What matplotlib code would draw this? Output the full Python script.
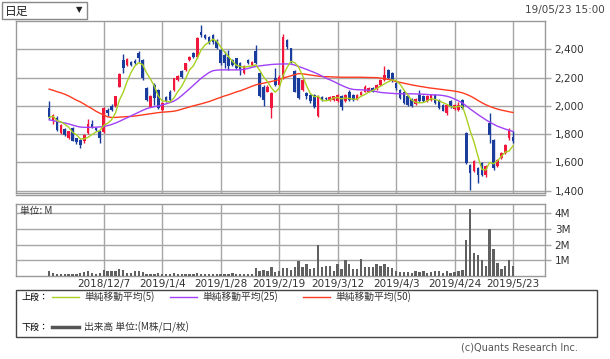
import numpy as np
import pandas as pd
import matplotlib
matplotlib.use("Agg")
import matplotlib.pyplot as plt
from matplotlib.patches import Rectangle
from matplotlib.lines import Line2D

# daily candles, 2018/11/16 .. 2019/5/23 (index 0..119)
opens = [1983, 1901, 1915, 1807, 1836, 1772, 1842, 1772, 1760, 1748,
         1808, 1873, 1845, 1820, 1812, 1972, 2000, 2000, 2136, 2325,
         2290, 2313, 2318, 2372, 2325, 2125, 1995, 2148, 2113, 1972,
         2061, 2101, 2113, 2184, 2243, 2254, 2325, 2372, 2348, 2525,
         2501, 2489, 2501, 2461, 2395, 2360, 2348, 2325, 2336, 2301,
         2231, 2325, 2290, 2384, 2231, 2136, 2101, 1984, 2195, 2148,
         2195, 2466, 2407, 2243, 2195, 2113, 2089, 2078, 2078, 1925,
         2061, 2056, 2042, 2042, 2031, 2071, 2031, 2101, 2078, 2047,
         2078, 2101, 2101, 2125, 2118, 2148, 2184, 2254, 2231, 2160,
         2113, 2101, 2066, 2047, 2014, 2078, 2066, 2031, 2042, 2078,
         2042, 2007, 1948, 2031, 1976, 1972, 2042, 1807, 1584, 1537,
         1560, 1595, 1513, 1878, 1760, 1572, 1630, 1666, 1772, 1779]
highs = [2035, 1940, 1925, 1870, 1845, 1825, 1850, 1775, 1765, 1800,
         1908, 1900, 1850, 1825, 1990, 1984, 2010, 2070, 2230, 2365,
         2340, 2320, 2330, 2384, 2330, 2130, 2075, 2160, 2120, 2030,
         2070, 2110, 2200, 2220, 2250, 2305, 2355, 2380, 2485, 2572,
         2510, 2495, 2510, 2470, 2400, 2384, 2395, 2330, 2340, 2310,
         2290, 2330, 2320, 2430, 2240, 2145, 2145, 2095, 2266, 2215,
         2508, 2475, 2410, 2250, 2200, 2195, 2095, 2085, 2085, 2075,
         2068, 2065, 2068, 2072, 2085, 2080, 2085, 2110, 2085, 2085,
         2108, 2148, 2130, 2130, 2155, 2190, 2278, 2260, 2240, 2170,
         2120, 2108, 2075, 2055, 2055, 2113, 2075, 2075, 2085, 2085,
         2050, 2015, 2015, 2042, 2015, 2030, 2050, 1815, 1590, 1615,
         1570, 1600, 1580, 1948, 1765, 1625, 1675, 1730, 1843, 1819]
lows = [1906, 1870, 1825, 1800, 1790, 1765, 1750, 1732, 1705, 1740,
        1800, 1842, 1825, 1740, 1805, 1925, 1965, 1995, 2130, 2230,
        2280, 2285, 2295, 2313, 2180, 2035, 1990, 2007, 1975, 1960,
        2025, 2035, 2105, 2175, 2200, 2245, 2320, 2340, 2340, 2489,
        2470, 2435, 2440, 2400, 2290, 2266, 2254, 2280, 2260, 2219,
        2225, 2295, 2285, 2295, 2060, 2000, 2095, 1913, 2140, 2140,
        2190, 2405, 2305, 2095, 2045, 2105, 2050, 2020, 1985, 1920,
        2035, 2040, 2035, 2035, 2025, 1972, 2025, 2035, 2035, 2040,
        2070, 2095, 2095, 2095, 2110, 2140, 2178, 2190, 2165, 2115,
        2045, 2010, 2000, 1990, 2005, 2025, 2025, 2025, 2035, 2010,
        1975, 1960, 1936, 1985, 1970, 1965, 1975, 1590, 1407, 1530,
        1454, 1505, 1500, 1736, 1550, 1565, 1622, 1660, 1760, 1736]
closes = [1918, 1936, 1831, 1866, 1795, 1819, 1755, 1741, 1725, 1795,
          1873, 1850, 1830, 1772, 1984, 1948, 1972, 2066, 2224, 2266,
          2330, 2290, 2301, 2336, 2195, 2042, 2070, 2054, 1984, 2023,
          2031, 2042, 2195, 2212, 2207, 2301, 2348, 2348, 2478, 2501,
          2478, 2442, 2454, 2407, 2301, 2301, 2278, 2290, 2266, 2254,
          2278, 2301, 2313, 2301, 2066, 2042, 2136, 2089, 2148, 2207,
          2489, 2414, 2313, 2101, 2054, 2184, 2066, 2031, 1990, 2066,
          2042, 2047, 2061, 2066, 2078, 1995, 2078, 2042, 2042, 2078,
          2101, 2136, 2125, 2101, 2148, 2184, 2219, 2195, 2172, 2125,
          2054, 2019, 2007, 2000, 2047, 2031, 2031, 2066, 2078, 2019,
          1984, 1967, 2007, 1991, 2007, 2007, 1984, 1595, 1525, 1607,
          1513, 1513, 1572, 1795, 1560, 1619, 1666, 1725, 1831, 1748]
# volume in millions of shares
volumes = [0.3, 0.2, 0.15, 0.1, 0.15, 0.12, 0.12, 0.15, 0.2, 0.25,
           0.3, 0.2, 0.12, 0.2, 0.4, 0.3, 0.35, 0.35, 0.45, 0.4,
           0.2, 0.2, 0.3, 0.3, 0.25, 0.15, 0.12, 0.1, 0.2, 0.1,
           0.15, 0.1, 0.2, 0.15, 0.15, 0.15, 0.12, 0.15, 0.2, 0.12,
           0.15, 0.1, 0.12, 0.1, 0.15, 0.15, 0.12, 0.2, 0.15, 0.1,
           0.1, 0.12, 0.1, 0.5, 0.35, 0.4, 0.35, 0.55, 0.25, 0.3,
           0.5, 0.5, 0.4, 0.6, 0.95, 0.6, 0.75, 0.45, 0.5, 2.0,
           0.55, 0.65, 0.65, 0.3, 0.75, 0.45, 1.0, 0.75, 0.45, 0.45,
           1.1, 0.6, 0.6, 0.55, 0.75, 0.65, 0.75, 0.6, 0.5, 0.3,
           0.25, 0.25, 0.25, 0.2, 0.35, 0.25, 0.35, 0.2, 0.25, 0.3,
           0.3, 0.2, 0.3, 0.2, 0.25, 0.3, 0.4, 2.3, 4.3, 1.5,
           1.35, 1.0, 0.65, 3.0, 1.7, 0.8, 0.45, 0.65, 1.0, 0.65]
ma25 = [1901, 1896, 1890, 1884, 1879, 1872, 1864, 1856, 1850, 1848,
        1848, 1848, 1849, 1851, 1854, 1860, 1868, 1878, 1890, 1903,
        1916, 1929, 1942, 1955, 1968, 1980, 1988, 1994, 1999, 2006,
        2014, 2023, 2033, 2050, 2072, 2096, 2120, 2145, 2170, 2195,
        2215, 2235, 2248, 2252, 2254, 2254, 2254, 2254, 2254, 2254,
        2258, 2264, 2272, 2278, 2282, 2286, 2289, 2292, 2294, 2295,
        2296, 2296, 2295, 2288, 2278, 2268, 2258, 2247, 2236, 2224,
        2210, 2196, 2184, 2172, 2158, 2145, 2133, 2122, 2116, 2114,
        2113, 2112, 2110, 2106, 2100, 2095, 2092, 2090, 2088, 2086,
        2085, 2085, 2085, 2085, 2084, 2083, 2082, 2080, 2078, 2077,
        2076, 2073, 2068, 2060, 2048, 2035, 2020, 2000, 1978, 1958,
        1938, 1920, 1902, 1885, 1870, 1856, 1846, 1836, 1827, 1819]
ma50 = [2118, 2110, 2100, 2092, 2082, 2070, 2055, 2040, 2028, 2012,
        1995, 1980, 1962, 1948, 1935, 1922, 1918, 1918, 1920, 1922,
        1924, 1925, 1928, 1932, 1936, 1940, 1944, 1948, 1952, 1955,
        1957, 1959, 1962, 1968, 1976, 1984, 1992, 2000, 2007, 2014,
        2022, 2030, 2040, 2050, 2060, 2070, 2078, 2088, 2098, 2106,
        2116, 2127, 2138, 2148, 2155, 2160, 2166, 2172, 2178, 2186,
        2196, 2204, 2212, 2220, 2228, 2226, 2222, 2218, 2214, 2210,
        2207, 2206, 2205, 2204, 2203, 2202, 2202, 2202, 2202, 2202,
        2202, 2201, 2200, 2200, 2199, 2196, 2192, 2187, 2180, 2172,
        2166, 2160, 2154, 2148, 2143, 2138, 2134, 2129, 2125, 2122,
        2118, 2115, 2111, 2108, 2104, 2099, 2092, 2082, 2070, 2055,
        2038, 2022, 2008, 1996, 1986, 1977, 1970, 1964, 1958, 1953]

date_pos = [14, 29, 44, 59, 74, 89, 104, 119]
date_labels = ["2018/12/7", "2019/1/4", "2019/1/28", "2019/2/19",
               "2019/3/12", "2019/4/3", "2019/4/24", "2019/5/23"]
price_ticks = [1400, 1600, 1800, 2000, 2200, 2400]
vol_ticks = [1, 2, 3, 4]

UP = "#f0163c"
DOWN = "#1a3c9c"
GRID = "#a6a6a6"
JP = ["Noto Sans CJK JP", "DejaVu Sans"]
plt.rcParams["font.family"] = ["DejaVu Sans", "Noto Sans CJK JP"]

W, H = 610, 359
fig = plt.figure(figsize=(W / 100, H / 100), dpi=100)


def box(l, t, r, b):
    return [l / W, 1 - b / H, (r - l) / W, (b - t) / H]


def fx(x):
    return x / W


def fy(y):
    return 1 - y / H


ax = fig.add_axes(box(16, 20.5, 545, 193))
av = fig.add_axes(box(16, 204, 545, 276))

x = np.arange(len(closes))
o = np.array(opens)
c = np.array(closes)
up = c >= o
colors = np.where(up, UP, DOWN)

# candles
ax.vlines(x, lows, highs, colors=colors, lw=1.0, zorder=3)
bottom = np.minimum(o, c)
height = np.maximum(np.abs(c - o), 6)
ax.bar(x, height, bottom=bottom, width=0.68, color=colors, lw=0, zorder=4)

ma5 = pd.Series(closes).rolling(5, min_periods=1).mean()
ax.plot(x, ma50, color="#ff3b1f", lw=1.0, zorder=5)
ax.plot(x, ma25, color="#a040f8", lw=1.0, zorder=5)
ax.plot(x, ma5, color="#a8d020", lw=1.0, zorder=6)

xlim = (-8.5, 127.2)
for a in (ax, av):
    a.set_xlim(*xlim)
    a.set_xticks(date_pos)
    a.grid(True, color=GRID, lw=1.0)
    a.set_axisbelow(True)
    a.yaxis.tick_right()
    a.tick_params(axis="y", direction="out", length=4, width=1, color=GRID,
                  labelsize=7.5, pad=3, labelcolor="#333333")
    a.tick_params(axis="x", length=0)
    for s in a.spines.values():
        s.set_color("#999999")
        s.set_linewidth(1.0)

ax.set_ylim(1384, 2603)
ax.set_yticks(price_ticks)
ax.set_yticklabels([f"{v:,}" for v in price_ticks])
ax.set_xticklabels([])

av.bar(x, volumes, width=0.6, color="#606060", lw=0, zorder=3)
av.set_ylim(0, 4.6)
av.set_yticks(vol_ticks)
av.set_yticklabels([f"{v}M" for v in vol_ticks])
av.set_xticklabels(date_labels, fontsize=7.5, color="#333333")
av.tick_params(axis="x", pad=2)
av.text(0.008, 0.97, "単位: M", transform=av.transAxes, ha="left", va="top",
        fontsize=7, family=JP, color="#333333")

# extra rule under the price panel
fig.add_artist(Line2D([fx(16), fx(545)], [fy(194.5), fy(194.5)],
                      color="#999999", lw=1.0))

# header
fig.add_artist(Rectangle((fx(2), fy(19)), fx(85), 17 / H, fill=False,
                         ec="#888888", lw=1.0))
fig.text(fx(5), fy(11), "日足", family=JP, fontsize=8.5, va="center",
         ha="left", color="#222222")
fig.text(fx(79), fy(10), "▼", fontsize=6, va="center", ha="center",
         color="#222222")
fig.text(fx(605), fy(10), "19/05/23 15:00", fontsize=7.5, va="center",
         ha="right", color="#444444")

# legend box
fig.add_artist(Rectangle((fx(16), fy(337)), fx(581), 47 / H, fill=False,
                         ec="#444444", lw=1.0))
row1, row2 = 297, 327
fig.text(fx(21), fy(row1), "上段：", family=JP, fontsize=6.5, va="center")
fig.text(fx(21), fy(row2), "下段：", family=JP, fontsize=6.5, va="center")
for x0, col, lab in [(52, "#a8d020", "単純移動平均(5)"),
                     (170, "#a040f8", "単純移動平均(25)"),
                     (303, "#ff3b1f", "単純移動平均(50)")]:
    fig.add_artist(Line2D([fx(x0), fx(x0 + 27)], [fy(row1), fy(row1)],
                          color=col, lw=1.0))
    fig.text(fx(x0 + 32), fy(row1), lab, family=JP, fontsize=7,
             va="center", color="#333333")
fig.add_artist(Line2D([fx(52), fx(79)], [fy(row2), fy(row2)],
                      color="#555555", lw=2.5))
fig.text(fx(84), fy(row2), "出来高 単位:(M株/口/枚)", family=JP, fontsize=7,
         va="center", color="#333333")

fig.text(fx(578), fy(348), "(c)Quants Research Inc.", fontsize=7,
         ha="right", va="center", color="#555555")

fig.savefig("out.png", dpi=100)
